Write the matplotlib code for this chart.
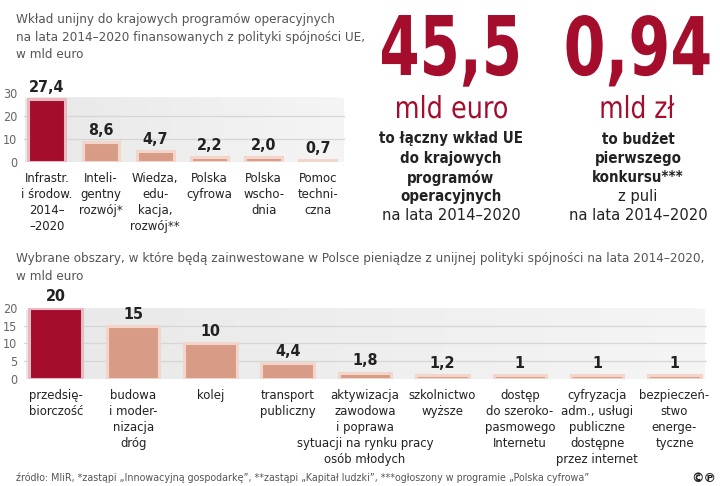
import matplotlib.pyplot as plt
import numpy as np
from matplotlib import font_manager as fm
from matplotlib.patches import FancyBboxPatch, PathPatch
from matplotlib.colors import LinearSegmentedColormap
from matplotlib.textpath import TextPath
from matplotlib.transforms import Affine2D

# dane - wykres górny
cat1 = ["Infrastr.\ni środow.\n2014–\n–2020", "Inteli-\ngentny\nrozwój*", "Wiedza,\nedu-\nkacja,\nrozwój**",
        "Polska\ncyfrowa", "Polska\nwscho-\ndnia", "Pomoc\ntechni-\nczna"]
val1 = [27.4, 8.6, 4.7, 2.2, 2.0, 0.7]
lab1 = ["27,4", "8,6", "4,7", "2,2", "2,0", "0,7"]
ticks1 = [0, 10, 20, 30]

# dane - wykres dolny
cat2 = ["przedsię-\nbiorczość", "budowa\ni moder-\nnizacja\ndróg", "kolej", "transport\npubliczny",
        "aktywizacja\nzawodowa\ni poprawa\nsytuacji na rynku pracy\nosób młodych",
        "szkolnictwo\nwyższe", "dostęp\ndo szeroko-\npasmowego\nInternetu",
        "cyfryzacja\nadm., usługi\npubliczne\ndostępne\nprzez internet",
        "bezpieczeń-\nstwo\nenerge-\ntyczne"]
val2 = [20, 15, 10, 4.4, 1.8, 1.2, 1, 1, 1]
lab2 = ["20", "15", "10", "4,4", "1,8", "1,2", "1", "1", "1"]
ticks2 = [0, 5, 10, 15, 20]

RED = "#a50d2d"
SALMON = "#d89c86"
EDGE_RED = "#e8b9bf"
EDGE_S = "#f3d6cb"
TXT = "#222222"
GRAY = "#555555"


def find_font(names, bold):
    files = {f.fname.split("/")[-1]: f.fname for f in fm.fontManager.ttflist}
    for n in names:
        if n in files:
            return fm.FontProperties(fname=files[n])
    return fm.FontProperties(family="DejaVu Sans", weight="bold" if bold else "normal")


NARROW = find_font(["LiberationSansNarrow-Regular.ttf", "DejaVuSansCondensed.ttf"], False)
NARROW_B = find_font(["LiberationSansNarrow-Bold.ttf", "DejaVuSansCondensed-Bold.ttf"], True)


def fp(base, size):
    p = base.copy()
    p.set_size(size)
    return p


W, H = 720, 486
fig = plt.figure(figsize=(7.2, 4.86), dpi=100)
panel_cmap = LinearSegmentedColormap.from_list("p", ["#e8e8e8", "#f5f5f5"])


def px(x0, y0, x1, y1):
    # prostokat w pikselach (od gory) -> wspolrzedne figury
    return [x0 / W, 1 - y1 / H, (x1 - x0) / W, (y1 - y0) / H]


def big_text(s, prop, xc, base, w, h, color):
    # tekst jako sciezka, dopasowany do szerokosci i wysokosci w pikselach
    path = TextPath((0, 0), s, size=100, prop=prop)
    ext = path.get_extents()
    sx, sy = w / ext.width, h / ext.y1
    tr = Affine2D().scale(sx, sy).translate(xc - (ext.x0 + ext.width / 2) * sx, H - base)
    tr = tr + Affine2D().scale(1 / W, 1 / H) + fig.transFigure
    fig.add_artist(PathPatch(path, transform=tr, fc=color, ec="none"))


def draw(ax, vals, labs, cats, ticks, top, lab_y):
    n = len(vals)
    ax.set_ylim(0, ticks[-1])
    panel = FancyBboxPatch((0.003, -0.05), 0.994, top + 0.05, boxstyle="round,pad=0,rounding_size=0.03",
                           transform=ax.transAxes, fc="none", ec="none", zorder=0)
    ax.add_patch(panel)
    grad = np.linspace(0, 1, 256).reshape(1, -1)
    im = ax.imshow(grad, extent=[0, 1, -0.05, top], transform=ax.transAxes, aspect="auto",
                   cmap=panel_cmap, zorder=0)
    im.set_clip_path(panel)
    for t in ticks[1:]:
        if t < ticks[-1] * top:
            ax.axhline(t, color="#d6d6d6", lw=0.9, zorder=1)
    cols = [RED] + [SALMON] * (n - 1)
    edges = [EDGE_RED] + [EDGE_S] * (n - 1)
    ax.bar(range(n), vals, width=0.68, color=cols, edgecolor=edges, linewidth=2.2, zorder=2)
    for i, (v, l) in enumerate(zip(vals, labs)):
        ax.annotate(l, (i, v), xytext=(0, 3), textcoords="offset points", ha="center", va="bottom",
                    fontproperties=fp(NARROW_B, 11.5), color=TXT)
    for i, c in enumerate(cats):
        ax.text(i, lab_y, c, ha="center", va="top", fontproperties=fp(NARROW, 9.4), color=TXT,
                linespacing=1.3, transform=ax.get_xaxis_transform())
    ax.set_yticks(ticks)
    ax.set_yticklabels([str(t) for t in ticks])
    for lbl in ax.get_yticklabels():
        lbl.set_fontproperties(fp(NARROW, 9))
        lbl.set_color("#666666")
    ax.tick_params(axis="y", length=0, pad=5)
    ax.tick_params(axis="x", length=0, labelbottom=False)
    for s in ax.spines.values():
        s.set_visible(False)
    ax.set_facecolor("none")


# wykres gorny
ax1 = fig.add_axes(px(24, 93, 345, 162))
ax1.set_xlim(-0.42, 5.5)
draw(ax1, val1, lab1, cat1, ticks1, 0.94, -0.145)

# wykres dolny
ax2 = fig.add_axes(px(24, 308, 707, 379))
ax2.set_xlim(-0.41, 8.42)
draw(ax2, val2, lab2, cat2, ticks2, 1.0, -0.14)

# tytuly
fig.text(16 / W, 1 - 13 / H, "Wkład unijny do krajowych programów operacyjnych\n"
         "na lata 2014–2020 finansowanych z polityki spójności UE,\nw mld euro",
         ha="left", va="top", fontproperties=fp(NARROW, 9.6), color=GRAY, linespacing=1.45)
fig.text(16 / W, 1 - 252 / H, "Wybrane obszary, w które będą zainwestowane w Polsce pieniądze z unijnej "
         "polityki spójności na lata 2014–2020,\nw mld euro",
         ha="left", va="top", fontproperties=fp(NARROW, 9.6), color=GRAY, linespacing=1.45)

# duze liczby i opisy
big_text("45,5", NARROW_B, 450, 75, 136, 60, RED)
big_text("0,94", NARROW_B, 638, 75, 143, 60, RED)
big_text("mld euro", NARROW, 452, 118, 110, 23, RED)
big_text("mld zł", NARROW, 638, 118, 73, 23, RED)

for xc, lines, extra in [(451, ["to łączny wkład UE", "do krajowych", "programów", "operacyjnych"], None),
                         (638, ["to budżet", "pierwszego", "konkursu***"], "z puli")]:
    y = 139
    for ln in lines:
        fig.text(xc / W, 1 - y / H, ln, ha="center", va="center", fontproperties=fp(NARROW_B, 10.8),
                 color=TXT)
        y += 19.3
    if extra:
        fig.text(xc / W, 1 - y / H, extra, ha="center", va="center", fontproperties=fp(NARROW, 11.8),
                 color=TXT)
    fig.text(xc / W, 1 - 216 / H, "na lata 2014–2020", ha="center", va="center",
             fontproperties=fp(NARROW, 11.8), color=TXT)

# stopka
fig.text(16 / W, 1 - 478 / H, "źródło: MIiR, *zastąpi „Innowacyjną gospodarkę”, **zastąpi „Kapitał ludzki”, "
         "***ogłoszony w programie „Polska cyfrowa”", ha="left", va="center",
         fontproperties=fp(NARROW, 7.7), color=GRAY)
fig.text(704 / W, 1 - 478 / H, "\u00a9\u2117", ha="center", va="center", fontsize=9, fontweight="bold",
         color=TXT)

fig.savefig("out.png", dpi=100)
